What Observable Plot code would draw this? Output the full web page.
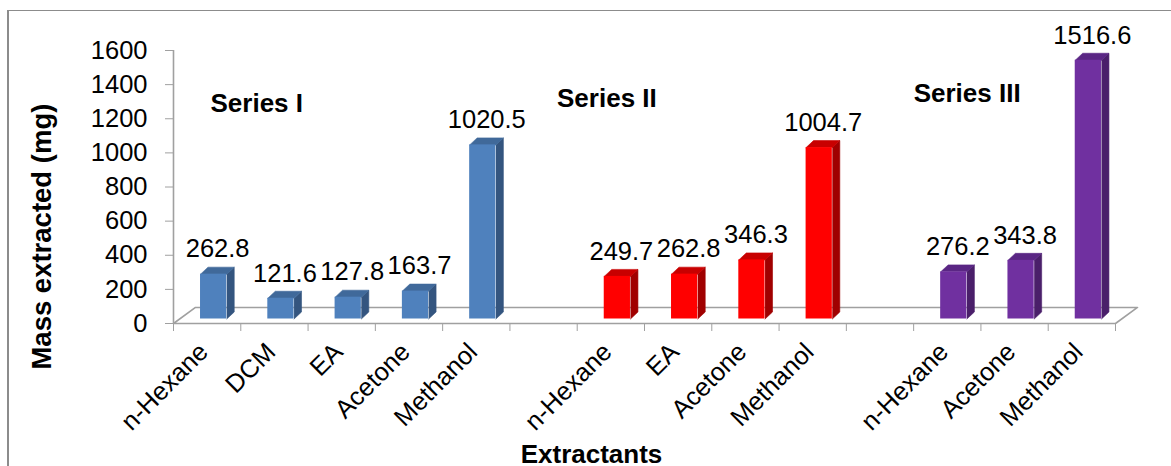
<!DOCTYPE html>
<html><head><meta charset="utf-8">
<script src="https://cdn.jsdelivr.net/npm/d3@7"></script>
<script src="https://cdn.jsdelivr.net/npm/@observablehq/plot@0.6"></script>
<style>
html,body{margin:0;padding:0;background:#fff;overflow:hidden;}
#wrap{position:relative;width:1171px;height:466px;}
#border{position:absolute;left:7px;top:10px;width:1200px;height:500px;border-left:2px solid #8c8c8c;border-top:1px solid #8c8c8c;pointer-events:none;}
</style></head><body>
<div id="wrap"><div id="border"></div></div>
<script>
// ---- data ----
const seriesNames = ["Series I", "Series II", "Series III"];
const seriesICategories = ["n-Hexane", "DCM", "EA", "Acetone", "Methanol"];
const seriesIValues = [262.8, 121.6, 127.8, 163.7, 1020.5];
const seriesIICategories = ["n-Hexane", "EA", "Acetone", "Methanol"];
const seriesIIValues = [249.7, 262.8, 346.3, 1004.7];
const seriesIIICategories = ["n-Hexane", "Acetone", "Methanol"];
const seriesIIIValues = [276.2, 343.8, 1516.6];
const yTicks = [0, 200, 400, 600, 800, 1000, 1200, 1400, 1600];
const xTitle = "Extractants";
const yTitle = "Mass extracted (mg)";

// colours per series: front, top, side
const frontColors = ["#4f81bd", "#ff0000", "#7030a0"];
const topColors = ["#40699a", "#c80000", "#5a2684"];
const sideColors = ["#34557f", "#a00000", "#4a1f6a"];

// ---- build slots (one empty slot between series) ----
const groups = [
  {categories: seriesICategories, values: seriesIValues},
  {categories: seriesIICategories, values: seriesIIValues},
  {categories: seriesIIICategories, values: seriesIIIValues}
];
const rows = [];
let slot = 0;
groups.forEach((g, gi) => {
  g.categories.forEach((c, i) => {
    rows.push({id: rows.length, slot, category: c, value: g.values[i], series: gi});
    slot++;
  });
  slot++;
});
const xDomain = [-0.5, slot - 1.5];
const boundaries = d3.range(xDomain[0], xDomain[1] + 0.01, 1);

// series annotation anchors (data space)
const seriesLabelSlot = [0.05, 5.2, 10.5];
const seriesLabelValue = [1242, 1266, 1297];
const seriesLabels = seriesNames.map((name, i) => ({name, x: seriesLabelSlot[i], y: seriesLabelValue[i]}));

// ---- 3D geometry (in slot / value units) ----
const halfW = 0.195, depthX = 0.111, depthY = 41;
const floorX = 0.327, floorY = 94;
const barDx = 6.5, barDy = -4.5;

const poly = (r, pts, color) => pts.map(([x, y]) => ({id: r.id, x, y, color}));
const sidePts = rows.flatMap(r => poly(r, [
  [r.slot + halfW, 0], [r.slot + halfW + depthX, depthY],
  [r.slot + halfW + depthX, r.value + depthY], [r.slot + halfW, r.value]
], sideColors[r.series]));
const topPts = rows.flatMap(r => poly(r, [
  [r.slot - halfW, r.value], [r.slot - halfW + depthX, r.value + depthY],
  [r.slot + halfW + depthX, r.value + depthY], [r.slot + halfW, r.value]
], topColors[r.series]));
const floorPts = [
  [xDomain[0], 0], [xDomain[1], 0], [xDomain[1] + floorX, floorY],
  [xDomain[0] + floorX, floorY], [xDomain[0], 0]
].map(([x, y]) => ({x, y}));

const gray = "#a0a0a0";
const font = "Liberation Sans, Arial, sans-serif";

const chart = Plot.plot({
  width: 1171,
  height: 466,
  marginLeft: 173,
  marginRight: 56,
  marginTop: 50,
  marginBottom: 143,
  style: {fontFamily: font, fontSize: "25px", color: "black", background: "transparent", overflow: "visible"},
  x: {type: "linear", domain: xDomain},
  y: {domain: [0, 1600]},
  color: {type: "identity"},
  marks: [
    // floor
    Plot.line(floorPts, {x: "x", y: "y", stroke: gray, strokeWidth: 1.6}),
    // y axis line
    Plot.ruleX([xDomain[0]], {y1: () => 0, y2: () => 1600, stroke: gray, strokeWidth: 1.6}),
    Plot.axisY({ticks: yTicks, tickFormat: d => String(d), tickSize: 8, tickPadding: 18, stroke: gray, fill: "black", fontSize: 25.5, label: null}),
    Plot.axisX({ticks: boundaries, tickSize: 8, tickFormat: () => "", stroke: gray, label: null}),
    // bars
    Plot.line(sidePts, {x: "x", y: "y", z: "id", fill: "color", stroke: "color", strokeWidth: 0.6, dx: barDx, dy: barDy}),
    Plot.line(topPts, {x: "x", y: "y", z: "id", fill: "color", stroke: "color", strokeWidth: 0.6, dx: barDx, dy: barDy}),
    Plot.rect(rows, {x1: d => d.slot - halfW, x2: d => d.slot + halfW, y1: () => 0, y2: "value",
      fill: d => frontColors[d.series], dx: barDx, dy: barDy}),
    // value labels
    Plot.text(rows, {x: "slot", y: "value", text: d => d.value.toFixed(1), lineAnchor: "bottom",
      fontSize: 25.5, fill: "black", dx: barDx + 4, dy: barDy - 16.7}),
    // category labels
    Plot.text(rows, {x: "slot", text: "category", frameAnchor: "bottom", rotate: -45, textAnchor: "end",
      fontSize: 25.5, fill: "black", dx: 2.5, dy: 30}),
    // series labels
    Plot.text(seriesLabels, {x: "x", y: "y", text: "name", textAnchor: "start", lineAnchor: "bottom",
      fontSize: 26, fontWeight: "bold", fill: "black"}),
    // axis titles
    Plot.text([xTitle], {frameAnchor: "bottom", text: d => d, textAnchor: "middle", lineAnchor: "bottom", fontSize: 26,
      fontWeight: "bold", fill: "black", dx: -53, dy: 139}),
    Plot.text([yTitle], {frameAnchor: "left", text: d => d, textAnchor: "middle", rotate: -90, fontSize: 27.5,
      fontWeight: "bold", fill: "black", dx: -131.5, dy: 49.6})
  ]
});
document.getElementById("wrap").prepend(chart);
</script>
</body></html>
